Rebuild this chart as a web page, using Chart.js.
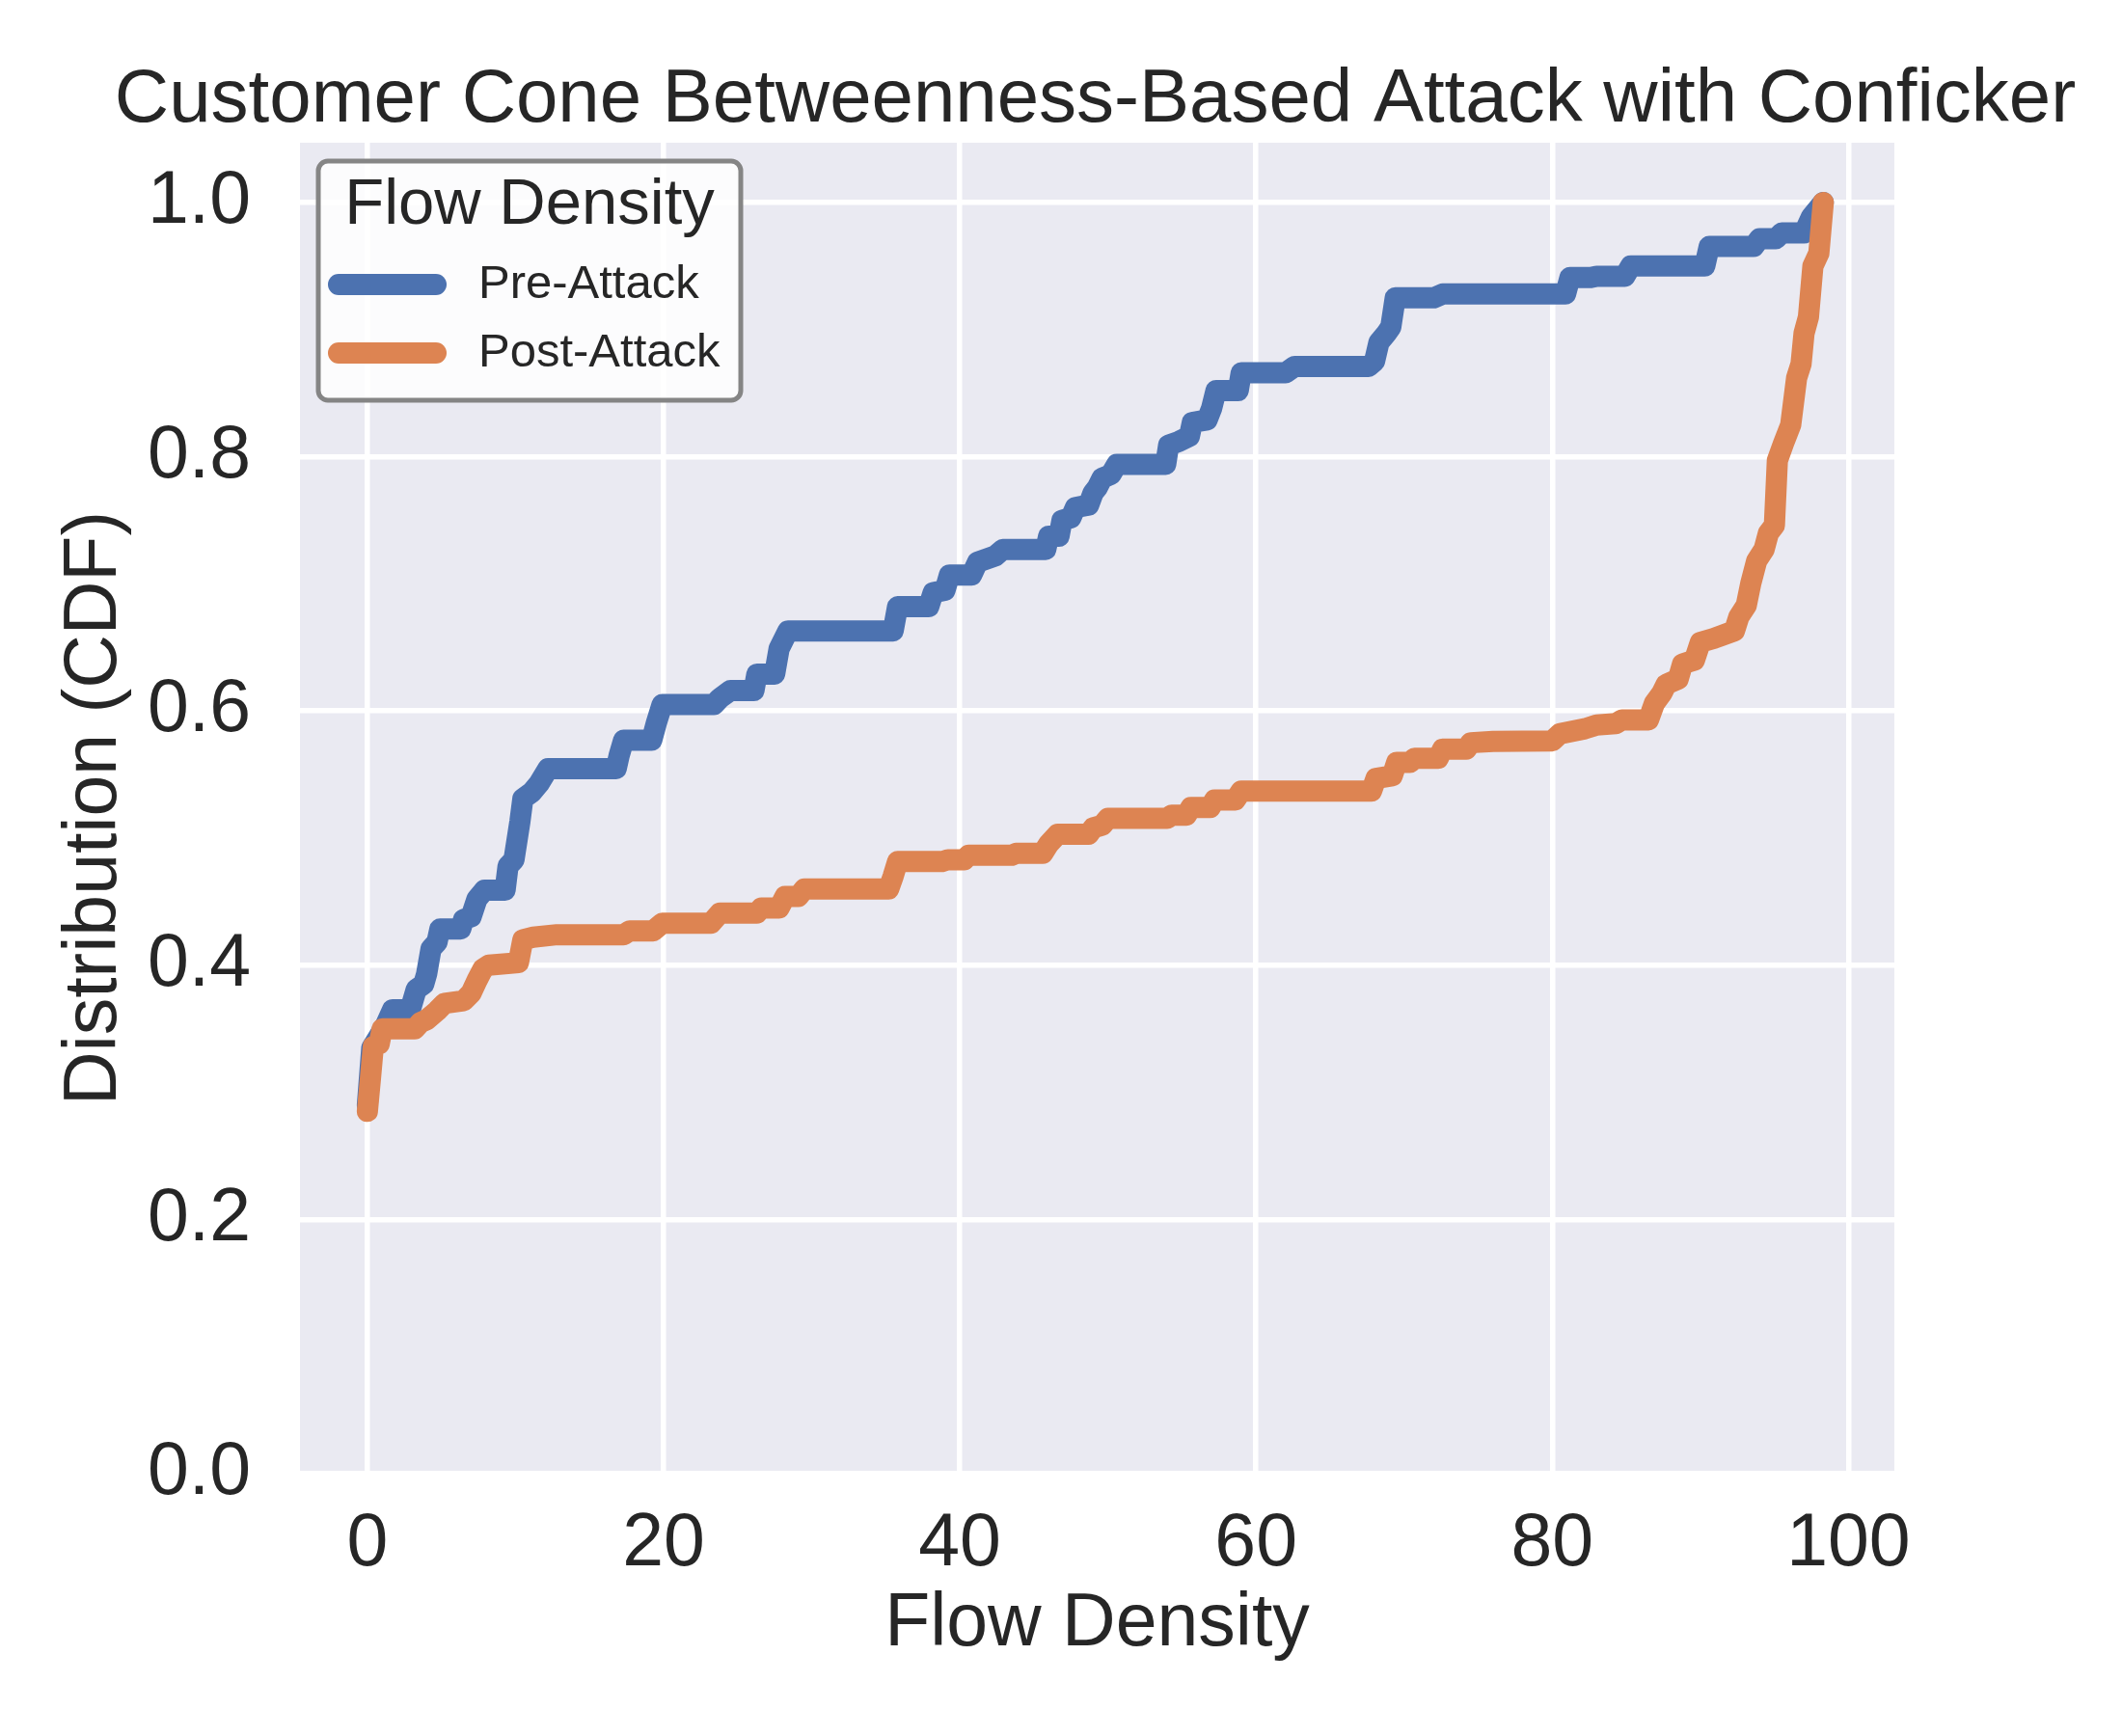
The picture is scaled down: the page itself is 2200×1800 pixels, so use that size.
<!DOCTYPE html>
<html>
<head>
<meta charset="utf-8">
<title>Customer Cone Betweenness-Based Attack with Conficker</title>
<script src="https://cdn.jsdelivr.net/npm/chart.js@4/dist/chart.umd.min.js"></script>
<style>
  html, body { margin: 0; padding: 0; background: #ffffff; }
  #chart { display: block; width: 2200px; height: 1800px; }
</style>
</head>
<body>
<canvas id="chart" width="2200" height="1800"></canvas>
<script>
// CDF of flow density
const preX = [0.0, 0.3, 1.2, 1.7, 2.9, 3.3, 3.8, 4.0, 4.3, 4.7, 4.9, 6.3, 6.5, 7.0, 7.4, 7.9, 9.3, 9.5, 9.9, 10.3,
  10.5, 11.1, 11.6, 12.2, 16.8, 17.0, 17.3, 19.2, 19.5, 19.9, 23.4, 23.8, 24.5, 26.1, 26.3, 27.5, 27.8, 28.4, 35.5, 35.8,
  37.9, 38.2, 39.0, 39.3, 40.8, 41.2, 42.4, 42.9, 45.8, 46.0, 46.7, 46.9, 47.5, 47.8, 48.7, 49.0, 49.3, 49.6, 50.2, 50.6,
  53.9, 54.1, 54.8, 55.5, 55.7, 56.7, 57.0, 57.3, 58.8, 59.0, 62.0, 62.6, 67.6, 68.0, 68.3, 68.8, 69.1, 69.4, 72.0, 72.6,
  80.9, 81.2, 82.6, 83.0, 84.9, 85.3, 90.3, 90.6, 93.6, 94.0, 95.1, 95.5, 97.0, 97.5, 98.3];
const preY = [0.29, 0.335, 0.352, 0.365, 0.365, 0.381, 0.385, 0.393, 0.413, 0.418, 0.4285, 0.4285, 0.436, 0.438, 0.452, 0.459, 0.459, 0.478, 0.483, 0.513,
  0.531, 0.536, 0.543, 0.5546, 0.5546, 0.565, 0.577, 0.577, 0.590, 0.605, 0.605, 0.610, 0.616, 0.616, 0.629, 0.629, 0.649, 0.663, 0.663, 0.682,
  0.682, 0.693, 0.695, 0.707, 0.707, 0.717, 0.722, 0.727, 0.727, 0.7375, 0.7375, 0.750, 0.752, 0.760, 0.762, 0.7715, 0.776, 0.783, 0.786, 0.794,
  0.794, 0.809, 0.812, 0.816, 0.827, 0.829, 0.838, 0.852, 0.852, 0.866, 0.866, 0.871, 0.871, 0.875, 0.890, 0.897, 0.902, 0.925, 0.925, 0.928,
  0.928, 0.941, 0.941, 0.942, 0.942, 0.950, 0.950, 0.9654, 0.9654, 0.9716, 0.9716, 0.976, 0.976, 0.9886, 1.0];

const postX = [0.0, 0.2, 0.4, 0.8, 1.0, 3.2, 3.6, 4.0, 4.7, 5.2, 6.5, 7.0, 7.4, 7.8, 8.2, 10.2, 10.5, 11.2, 12.8, 17.3,
  17.7, 19.3, 19.9, 23.2, 23.8, 26.3, 26.6, 27.8, 28.2, 29.1, 29.5, 35.2, 35.5, 35.8, 38.8, 39.2, 40.3, 40.6, 43.5, 43.8,
  45.6, 46.0, 46.6, 48.7, 49.0, 49.6, 50.0, 54.0, 54.3, 55.3, 55.6, 56.9, 57.2, 58.6, 59.0, 67.8, 68.1, 69.2, 69.5, 70.4,
  70.7, 72.3, 72.6, 74.2, 74.5, 76.0, 80.0, 80.5, 82.2, 83.0, 84.3, 84.7, 86.5, 86.9, 87.4, 87.7, 88.5, 88.8, 89.6, 90.0,
  90.9, 92.3, 92.6, 93.1, 93.4, 93.8, 94.3, 94.6, 95.0, 95.2, 95.6, 96.1, 96.5, 96.8, 97.0, 97.3, 97.6, 98.0, 98.3];
const postY = [0.285, 0.31, 0.336, 0.338, 0.350, 0.350, 0.355, 0.357, 0.364, 0.370, 0.372, 0.378, 0.388, 0.397, 0.400, 0.402, 0.420, 0.422, 0.424, 0.424,
  0.427, 0.427, 0.433, 0.433, 0.441, 0.441, 0.445, 0.445, 0.454, 0.454, 0.460, 0.460, 0.470, 0.4815, 0.4815, 0.483, 0.483, 0.4865, 0.4865, 0.488,
  0.488, 0.4953, 0.503, 0.503, 0.508, 0.510, 0.5155, 0.5155, 0.518, 0.518, 0.524, 0.524, 0.530, 0.530, 0.537, 0.537, 0.547, 0.549, 0.5596, 0.5596,
  0.5627, 0.5627, 0.570, 0.570, 0.575, 0.576, 0.5765, 0.582, 0.586, 0.589, 0.590, 0.593, 0.593, 0.606, 0.614, 0.621, 0.625, 0.637, 0.640, 0.654,
  0.657, 0.663, 0.674, 0.683, 0.700, 0.718, 0.727, 0.740, 0.746, 0.797, 0.810, 0.825, 0.862, 0.873, 0.897, 0.910, 0.950, 0.960, 1.0];

const seriesNames = ["Pre-Attack", "Post-Attack"];
const seriesColors = ["#4C72B0", "#DD8452"];
const legendTitle = "Flow Density";
const chartTitle = "Customer Cone Betweenness-Based Attack with Conficker";

const FONT = "'Liberation Sans', Arial, Helvetica, sans-serif";
const TEXT = "#262626";

const toPoints = (xs, ys) => xs.map((x, i) => ({ x: x, y: ys[i] }));

// seaborn-ish grey plot background
const plotBackground = {
  id: "plotBackground",
  beforeDraw(chart) {
    const { ctx, chartArea: a } = chart;
    ctx.save();
    ctx.fillStyle = "#EAEAF2";
    ctx.fillRect(a.left, a.top, a.right - a.left, a.bottom - a.top);
    ctx.restore();
  },
};

// title centred over the axes (matplotlib style), allowed to run wider than them
const axesTitle = {
  id: "axesTitle",
  afterDraw(chart) {
    const { ctx, chartArea: a } = chart;
    ctx.save();
    ctx.fillStyle = TEXT;
    ctx.font = "78px " + FONT;
    ctx.textAlign = "center";
    ctx.textBaseline = "alphabetic";
    ctx.fillText(chartTitle, (a.left + a.right) / 2 - 2, a.top - 22);
    ctx.restore();
  },
};

// matplotlib style legend box in the upper left of the axes
const boxLegend = {
  id: "boxLegend",
  afterDatasetsDraw(chart) {
    const { ctx, chartArea: a } = chart;
    const left = a.left + 19, top = a.top + 19, w = 438, h = 248;
    ctx.save();
    ctx.beginPath();
    ctx.roundRect(left, top, w, h, 10);
    ctx.fillStyle = "rgba(255,255,255,0.85)";
    ctx.fill();
    ctx.lineWidth = 5;
    ctx.strokeStyle = "#858585";
    ctx.stroke();

    ctx.fillStyle = TEXT;
    ctx.textBaseline = "middle";
    ctx.textAlign = "center";
    ctx.font = "67px " + FONT;
    ctx.fillText(legendTitle, left + w / 2, top + 47);

    ctx.textAlign = "left";
    ctx.font = "49px " + FONT;
    seriesNames.forEach((name, i) => {
      const y = top + 128 + i * 71;
      ctx.beginPath();
      ctx.moveTo(left + 21, y);
      ctx.lineTo(left + 122, y);
      ctx.lineWidth = 22;
      ctx.lineCap = "round";
      ctx.strokeStyle = seriesColors[i];
      ctx.stroke();
      ctx.fillText(name, left + 166, y);
    });
    ctx.restore();
  },
};

Chart.defaults.font.family = FONT;
Chart.defaults.color = TEXT;

new Chart(document.getElementById("chart"), {
  type: "line",
  data: {
    datasets: [
      {
        label: seriesNames[0],
        data: toPoints(preX, preY),
        borderColor: seriesColors[0],
        order: 1,
      },
      {
        label: seriesNames[1],
        data: toPoints(postX, postY),
        borderColor: seriesColors[1],
        order: 0,
      },
    ],
  },
  options: {
    responsive: false,
    devicePixelRatio: 1,
    animation: false,
    layout: { padding: { left: 0, right: 236, top: 148, bottom: 0 } },
    elements: {
      line: {
        borderWidth: 22,
        tension: 0,
        fill: false,
        borderCapStyle: "round",
        borderJoinStyle: "round",
      },
      point: { radius: 0, hoverRadius: 0 },
    },
    plugins: {
      legend: { display: false },
      tooltip: { enabled: false },
      title: { display: false },
    },
    scales: {
      x: {
        type: "linear",
        min: -4.55,
        max: 103.1,
        afterFit: (scale) => { scale.height = 272; },
        border: { display: false },
        grid: { color: "#ffffff", lineWidth: 5.5, drawTicks: false },
        ticks: {
          stepSize: 20,
          includeBounds: false,
          padding: 28,
          font: { size: 77 },
          color: TEXT,
          callback: (v) => String(v),
        },
        title: {
          display: true,
          text: "Flow Density",
          color: TEXT,
          font: { size: 77, lineHeight: 1.2 },
          padding: { top: 0, bottom: 69 },
        },
      },
      y: {
        type: "linear",
        min: 0,
        max: 1.047,
        afterFit: (scale) => { scale.width = 311; },
        border: { display: false },
        grid: { color: "#ffffff", lineWidth: 5.5, drawTicks: false },
        ticks: {
          stepSize: 0.2,
          includeBounds: false,
          padding: 51,
          font: { size: 77 },
          color: TEXT,
          callback: (v) => v.toFixed(1),
        },
        title: {
          display: true,
          text: "Distribution (CDF)",
          color: TEXT,
          font: { size: 77, lineHeight: 1.2 },
          padding: { top: 53, bottom: 0 },
        },
      },
    },
  },
  plugins: [plotBackground, axesTitle, boxLegend],
});
</script>
</body>
</html>
